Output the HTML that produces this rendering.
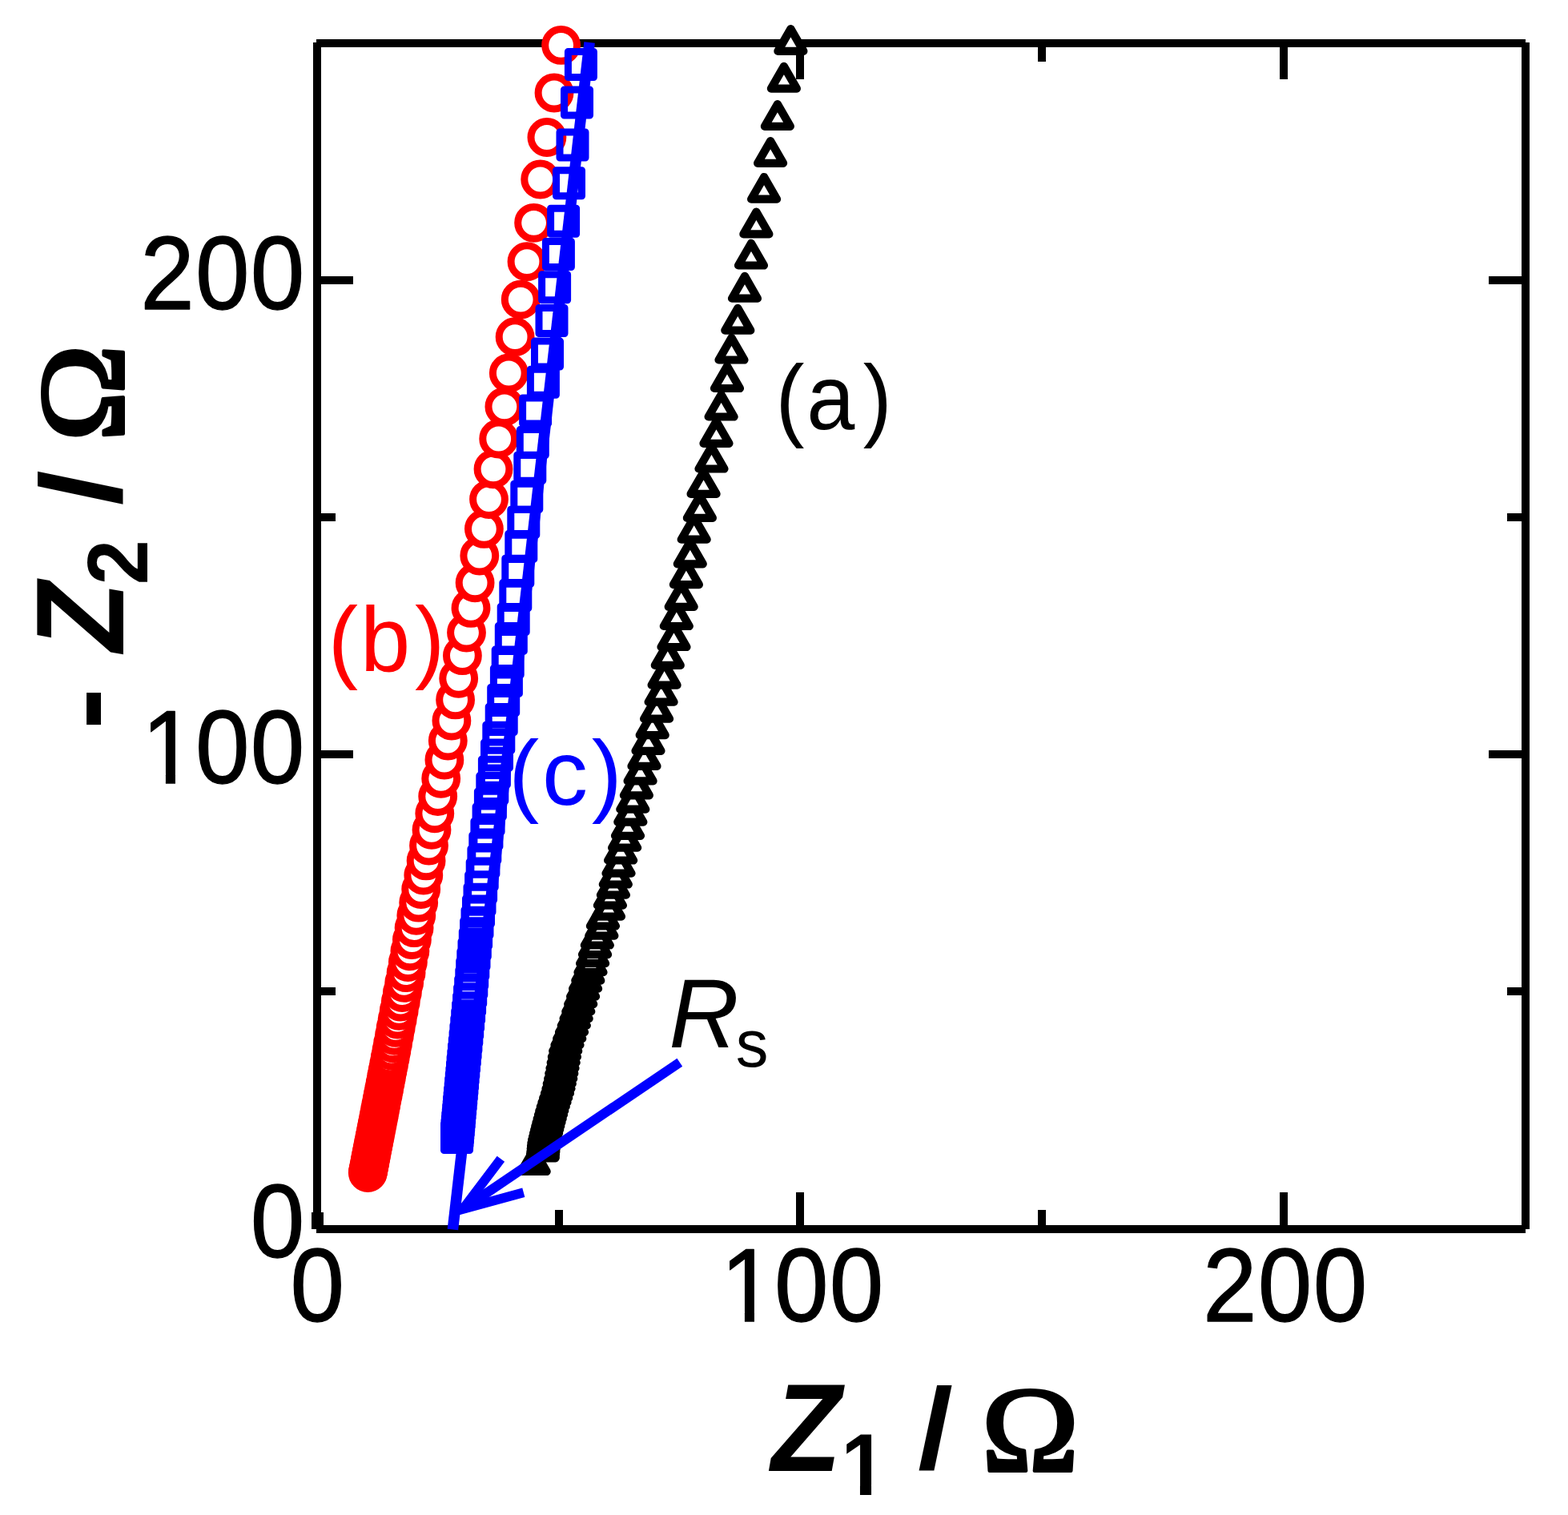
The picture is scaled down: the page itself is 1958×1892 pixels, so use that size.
<!DOCTYPE html>
<html lang="en"><head><meta charset="utf-8"><title>Nyquist plot</title>
<style>html,body{margin:0;padding:0;background:#fff}body{width:1958px;height:1892px}svg{display:block}</style>
</head><body>
<svg width="1958" height="1892" viewBox="0 0 1958 1892" role="img" aria-label="Nyquist plot">
<rect x="0" y="0" width="1958" height="1892" fill="#fff"/>
<defs><clipPath id="c0"><path clip-rule="evenodd" d="M-3000 -3000H3000V3000H-3000ZM905.66 -11.28H929.91V3.60H905.66ZM941.95 -11.28H965.25V3.60H941.95Z"/></clipPath><clipPath id="c1"><path clip-rule="evenodd" d="M-3000 -3000H3000V3000H-3000ZM182.66 -11.28H206.91V3.60H182.66ZM218.95 -11.28H242.25V3.60H218.95Z"/></clipPath><clipPath id="c2"><path clip-rule="evenodd" d="M-3000 -3000H3000V3000H-3000ZM93.62 17.39H113.95V33.10H93.62ZM128.05 17.39H147.09V33.10H128.05Z"/></clipPath></defs>
<g shape-rendering="crispEdges"><rect x="395" y="49" width="1510" height="10" fill="#000"/><rect x="395" y="1530" width="1510" height="10" fill="#000"/><rect x="391" y="53" width="10" height="1482" fill="#000"/><rect x="1900" y="53" width="10" height="1482" fill="#000"/><rect x="389" y="1514" width="15" height="21" fill="#000"/><rect x="693" y="1511" width="10" height="19" fill="#000"/><rect x="693" y="59" width="10" height="18" fill="#000"/><rect x="994" y="1489" width="10" height="41" fill="#000"/><rect x="994" y="59" width="10" height="40" fill="#000"/><rect x="1296" y="1511" width="10" height="19" fill="#000"/><rect x="1296" y="59" width="10" height="18" fill="#000"/><rect x="1598" y="1489" width="10" height="41" fill="#000"/><rect x="1598" y="59" width="10" height="40" fill="#000"/><rect x="401" y="1233" width="18" height="10" fill="#000"/><rect x="1882" y="1233" width="18" height="10" fill="#000"/><rect x="401" y="937" width="40" height="10" fill="#000"/><rect x="1859" y="937" width="41" height="10" fill="#000"/><rect x="401" y="641" width="18" height="10" fill="#000"/><rect x="1882" y="641" width="18" height="10" fill="#000"/><rect x="401" y="345" width="40" height="10" fill="#000"/><rect x="1859" y="345" width="41" height="10" fill="#000"/></g>
<g style="font-kerning:none">
<text transform="translate(0 1650.10) scale(1 1.0675)" x="362.57" y="0" style="font-family:'Liberation Sans',sans-serif;font-size:121.50px" fill="#000" stroke="#000" stroke-width="1.2" stroke-linejoin="round">0</text>
<text clip-path="url(#c0)" transform="translate(0 1650.10) scale(1 1.0675)" x="900.01 966.98 1035.77" y="0" style="font-family:'Liberation Sans',sans-serif;font-size:121.50px" fill="#000" stroke="#000" stroke-width="1.2" stroke-linejoin="round">100</text>
<text transform="translate(0 1650.10) scale(1 1.0675)" x="1502.09 1570.88 1639.67" y="0" style="font-family:'Liberation Sans',sans-serif;font-size:121.50px" fill="#000" stroke="#000" stroke-width="1.2" stroke-linejoin="round">200</text>
<text transform="translate(0 386.00) scale(1 1.0675)" x="175.19 243.98 312.77" y="0" style="font-family:'Liberation Sans',sans-serif;font-size:121.50px" fill="#000" stroke="#000" stroke-width="1.2" stroke-linejoin="round">200</text>
<text clip-path="url(#c1)" transform="translate(0 977.90) scale(1 1.0675)" x="177.01 243.98 312.77" y="0" style="font-family:'Liberation Sans',sans-serif;font-size:121.50px" fill="#000" stroke="#000" stroke-width="1.2" stroke-linejoin="round">100</text>
<text transform="translate(0 1570.10) scale(1 1.0675)" x="312.77" y="0" style="font-family:'Liberation Sans',sans-serif;font-size:121.50px" fill="#000" stroke="#000" stroke-width="1.2" stroke-linejoin="round">0</text>
</g>
<text clip-path="url(#c2)" transform="translate(960 1836.6)" fill="#000" style="font-kerning:none"><tspan x="3.35" y="0.00" textLength="87.19" lengthAdjust="spacingAndGlyphs" style="font-family:'Liberation Sans',sans-serif;font-weight:bold;font-style:italic;font-size:155.24px">Z</tspan><tspan x="90.20" y="30.10" textLength="56.73" lengthAdjust="spacingAndGlyphs" style="font-family:'Liberation Sans',sans-serif;font-weight:bold;font-size:108.90px">1</tspan> <tspan x="186.05" y="-2.87" textLength="44.10" lengthAdjust="spacingAndGlyphs" style="font-family:'Liberation Sans',sans-serif;font-weight:bold;font-size:143.43px">/</tspan> <tspan x="265.50" y="0.20" textLength="121.99" lengthAdjust="spacingAndGlyphs" style="font-family:'Liberation Serif',serif;font-size:152.84px" stroke="#000" stroke-width="4" stroke-linejoin="round">&#937;</tspan></text>
<text transform="translate(154.1 817.3) rotate(-90)" fill="#000" style="font-kerning:none"><tspan x="-93.85" y="2.07" textLength="52.46" lengthAdjust="spacingAndGlyphs" style="font-family:'Liberation Sans',sans-serif;font-weight:bold;font-size:151.08px">-</tspan> <tspan x="3.35" y="0.00" textLength="87.19" lengthAdjust="spacingAndGlyphs" style="font-family:'Liberation Sans',sans-serif;font-weight:bold;font-style:italic;font-size:155.24px">Z</tspan><tspan x="87.01" y="30.00" textLength="56.03" lengthAdjust="spacingAndGlyphs" style="font-family:'Liberation Sans',sans-serif;font-weight:bold;font-size:107.13px">2</tspan> <tspan x="186.05" y="-2.87" textLength="44.10" lengthAdjust="spacingAndGlyphs" style="font-family:'Liberation Sans',sans-serif;font-weight:bold;font-size:143.43px">/</tspan> <tspan x="265.50" y="0.20" textLength="121.99" lengthAdjust="spacingAndGlyphs" style="font-family:'Liberation Serif',serif;font-size:152.84px" stroke="#000" stroke-width="4" stroke-linejoin="round">&#937;</tspan></text>
<g fill="#fff" stroke="#000" stroke-width="10.2" stroke-linejoin="round"><path fill="#000" d="M666.7 1435.4L682.7 1463.0L650.7 1463.0Z"/><path fill="#000" d="M677.6 1418.7L693.6 1446.3L661.6 1446.3Z"/><path fill="#000" d="M677.7 1417.2L693.7 1444.9L661.7 1444.9Z"/><path fill="#000" d="M678.0 1413.9L694.0 1441.6L662.0 1441.6Z"/><path fill="#000" d="M678.4 1410.5L694.4 1438.2L662.4 1438.2Z"/><path fill="#000" d="M678.7 1406.9L694.7 1434.6L662.7 1434.6Z"/><path fill="#000" d="M679.0 1403.3L695.0 1431.0L663.0 1431.0Z"/><path fill="#000" d="M679.4 1399.5L695.4 1427.2L663.4 1427.2Z"/><path fill="#000" d="M680.1 1395.6L696.1 1423.3L664.1 1423.3Z"/><path fill="#000" d="M681.1 1391.5L697.1 1419.2L665.1 1419.2Z"/><path fill="#000" d="M682.1 1387.4L698.1 1415.1L666.1 1415.1Z"/><path fill="#000" d="M683.2 1383.1L699.2 1410.8L667.2 1410.8Z"/><path fill="#000" d="M684.3 1378.7L700.3 1406.4L668.3 1406.4Z"/><path fill="#000" d="M685.5 1374.1L701.5 1401.8L669.5 1401.8Z"/><path fill="#000" d="M686.7 1369.4L702.7 1397.1L670.7 1397.1Z"/><path fill="#000" d="M688.0 1364.5L704.0 1392.2L672.0 1392.2Z"/><path fill="#000" d="M689.3 1359.5L705.3 1387.2L673.3 1387.2Z"/><path fill="#000" d="M690.8 1354.3L706.8 1382.0L674.8 1382.0Z"/><path fill="#000" d="M692.5 1348.9L708.5 1376.6L676.5 1376.6Z"/><path fill="#000" d="M694.2 1343.4L710.2 1371.1L678.2 1371.1Z"/><path fill="#000" d="M696.0 1337.7L712.0 1365.4L680.0 1365.4Z"/><path fill="#000" d="M697.5 1331.8L713.5 1359.5L681.5 1359.5Z"/><path fill="#000" d="M698.8 1325.7L714.8 1353.4L682.8 1353.4Z"/><path fill="#000" d="M700.2 1319.4L716.2 1347.1L684.2 1347.1Z"/><path fill="#000" d="M701.3 1312.9L717.3 1340.6L685.3 1340.6Z"/><path fill="#000" d="M702.5 1306.3L718.5 1334.0L686.5 1334.0Z"/><path fill="#000" d="M703.7 1299.3L719.7 1327.0L687.7 1327.0Z"/><path fill="#000" d="M704.9 1292.2L720.9 1319.9L688.9 1319.9Z"/><path fill="#000" d="M706.2 1284.9L722.2 1312.6L690.2 1312.6Z"/><path fill="#000" d="M708.5 1277.3L724.5 1305.0L692.5 1305.0Z"/><path fill="#000" d="M711.2 1269.4L727.2 1297.1L695.2 1297.1Z"/><path fill="#000" d="M714.0 1261.3L730.0 1289.0L698.0 1289.0Z"/><path fill="#000" d="M716.8 1253.0L732.8 1280.7L700.8 1280.7Z"/><path fill="#000" d="M719.6 1244.4L735.6 1272.1L703.6 1272.1Z"/><path fill="#000" d="M722.3 1235.5L738.3 1263.2L706.3 1263.2Z"/><path fill="#000" d="M725.2 1226.3L741.2 1254.0L709.2 1254.0Z"/><path fill="#000" d="M728.1 1216.8L744.1 1244.5L712.1 1244.5Z"/><path fill="#000" d="M731.1 1207.0L747.1 1234.7L715.1 1234.7Z"/><path fill="#000" d="M734.3 1196.9L750.3 1224.6L718.3 1224.6Z"/><path d="M737.5 1186.5L753.5 1214.2L721.5 1214.2Z"/><path d="M740.1 1175.5L756.1 1203.2L724.1 1203.2Z"/><path d="M743.0 1164.4L759.0 1192.1L727.0 1192.1Z"/><path d="M745.8 1152.8L761.8 1180.5L729.8 1180.5Z"/><path d="M751.3 1140.9L767.3 1168.6L735.3 1168.6Z"/><path d="M752.9 1128.8L768.9 1156.5L736.9 1156.5Z"/><path d="M759.9 1116.9L775.9 1144.6L743.9 1144.6Z"/><path d="M761.9 1103.0L777.9 1130.7L745.9 1130.7Z"/><path d="M765.9 1090.0L781.9 1117.7L749.9 1117.7Z"/><path d="M768.8 1076.8L784.8 1104.5L752.8 1104.5Z"/><path d="M772.5 1063.0L788.5 1090.7L756.5 1090.7Z"/><path d="M775.1 1046.8L791.1 1074.5L759.1 1074.5Z"/><path d="M780.1 1031.0L796.1 1058.7L764.1 1058.7Z"/><path d="M784.0 1016.1L800.0 1043.8L768.0 1043.8Z"/><path d="M787.3 998.9L803.3 1026.6L771.3 1026.6Z"/><path d="M790.3 983.0L806.3 1010.7L774.3 1010.7Z"/><path d="M794.9 965.6L810.9 993.3L778.9 993.3Z"/><path d="M799.6 947.7L815.6 975.4L783.6 975.4Z"/><path d="M804.5 929.2L820.5 956.9L788.5 956.9Z"/><path d="M809.5 910.1L825.5 937.8L793.5 937.8Z"/><path d="M814.7 890.4L830.7 918.1L798.7 918.1Z"/><path d="M820.1 870.0L836.1 897.7L804.1 897.7Z"/><path d="M825.6 849.0L841.6 876.7L809.6 876.7Z"/><path d="M829.6 827.9L845.6 855.6L813.6 855.6Z"/><path d="M833.8 803.2L849.8 830.9L817.8 830.9Z"/><path d="M841.5 780.3L857.5 808.0L825.5 808.0Z"/><path d="M844.8 754.3L860.8 782.0L828.8 782.0Z"/><path d="M850.7 730.1L866.7 757.8L834.7 757.8Z"/><path d="M856.9 702.4L872.9 730.1L840.9 730.1Z"/><path d="M861.8 676.6L877.8 704.3L845.8 704.3Z"/><path d="M866.7 646.0L882.7 673.7L850.7 673.7Z"/><path d="M873.9 619.2L889.9 646.9L857.9 646.9Z"/><path d="M878.6 589.2L894.6 616.9L862.6 616.9Z"/><path d="M888.5 557.8L904.5 585.5L872.5 585.5Z"/><path d="M894.5 526.1L910.5 553.8L878.5 553.8Z"/><path d="M900.6 492.8L916.6 520.5L884.6 520.5Z"/><path d="M908.0 457.2L924.0 485.0L892.0 485.0Z"/><path d="M913.5 421.8L929.5 449.5L897.5 449.5Z"/><path d="M921.3 384.8L937.3 412.6L905.3 412.6Z"/><path d="M930.0 344.9L946.0 372.7L914.0 372.7Z"/><path d="M938.0 303.8L954.0 331.5L922.0 331.5Z"/><path d="M944.4 264.6L960.4 292.4L928.4 292.4Z"/><path d="M954.1 221.0L970.1 248.7L938.1 248.7Z"/><path d="M962.1 176.1L978.1 203.8L946.1 203.8Z"/><path d="M970.9 130.1L986.9 157.8L954.9 157.8Z"/><path d="M978.9 82.9L994.9 110.6L962.9 110.6Z"/><path d="M987.4 36.1L1003.4 63.9L971.4 63.9Z"/></g>
<g fill="#fff" stroke="#f00" stroke-width="9"><circle fill="#f00" cx="459.3" cy="1464.5" r="19.9"/><circle fill="#f00" cx="459.7" cy="1462.5" r="19.9"/><circle fill="#f00" cx="460.3" cy="1459.5" r="19.9"/><circle fill="#f00" cx="460.9" cy="1456.5" r="19.9"/><circle fill="#f00" cx="461.5" cy="1453.3" r="19.9"/><circle fill="#f00" cx="462.1" cy="1449.9" r="19.9"/><circle fill="#f00" cx="462.8" cy="1446.4" r="19.9"/><circle fill="#f00" cx="463.5" cy="1442.8" r="19.9"/><circle fill="#f00" cx="464.2" cy="1439.0" r="19.9"/><circle fill="#f00" cx="465.0" cy="1435.1" r="19.9"/><circle fill="#f00" cx="465.8" cy="1431.0" r="19.9"/><circle fill="#f00" cx="466.6" cy="1426.8" r="19.9"/><circle fill="#f00" cx="467.5" cy="1422.3" r="19.9"/><circle fill="#f00" cx="468.4" cy="1417.7" r="19.9"/><circle fill="#f00" cx="469.3" cy="1412.9" r="19.9"/><circle fill="#f00" cx="470.3" cy="1407.9" r="19.9"/><circle fill="#f00" cx="471.3" cy="1402.7" r="19.9"/><circle fill="#f00" cx="472.4" cy="1397.3" r="19.9"/><circle fill="#f00" cx="473.5" cy="1391.7" r="19.9"/><circle fill="#f00" cx="474.6" cy="1385.8" r="19.9"/><circle fill="#f00" cx="475.8" cy="1379.7" r="19.9"/><circle fill="#f00" cx="477.0" cy="1373.3" r="19.9"/><circle fill="#f00" cx="478.3" cy="1366.7" r="19.9"/><circle fill="#f00" cx="479.7" cy="1359.8" r="19.9"/><circle fill="#f00" cx="481.1" cy="1352.6" r="19.9"/><circle fill="#f00" cx="482.5" cy="1345.1" r="19.9"/><circle fill="#f00" cx="484.0" cy="1337.3" r="19.9"/><circle fill="#f00" cx="485.6" cy="1329.2" r="19.9"/><circle cx="487.2" cy="1320.8" r="19.9"/><circle cx="488.9" cy="1312.0" r="19.9"/><circle cx="490.6" cy="1302.8" r="19.9"/><circle cx="492.4" cy="1293.3" r="19.9"/><circle cx="494.2" cy="1283.4" r="19.9"/><circle cx="496.2" cy="1273.1" r="19.9"/><circle cx="498.2" cy="1262.3" r="19.9"/><circle cx="500.3" cy="1251.1" r="19.9"/><circle cx="502.4" cy="1239.5" r="19.9"/><circle cx="504.7" cy="1227.3" r="19.9"/><circle cx="507.1" cy="1214.7" r="19.9"/><circle cx="509.4" cy="1201.5" r="19.9"/><circle cx="511.9" cy="1187.8" r="19.9"/><circle cx="514.4" cy="1173.6" r="19.9"/><circle cx="517.1" cy="1158.7" r="19.9"/><circle cx="519.8" cy="1143.3" r="19.9"/><circle cx="522.7" cy="1127.2" r="19.9"/><circle cx="525.7" cy="1110.5" r="19.9"/><circle cx="528.8" cy="1093.0" r="19.9"/><circle cx="532.1" cy="1074.9" r="19.9"/><circle cx="535.5" cy="1056.0" r="19.9"/><circle cx="539.0" cy="1036.3" r="19.9"/><circle cx="542.8" cy="1015.8" r="19.9"/><circle cx="546.7" cy="994.5" r="19.9"/><circle cx="550.7" cy="972.3" r="19.9"/><circle cx="554.9" cy="949.1" r="19.9"/><circle cx="559.3" cy="925.1" r="19.9"/><circle cx="563.9" cy="900.0" r="19.9"/><circle cx="568.6" cy="873.9" r="19.9"/><circle cx="572.7" cy="847.3" r="19.9"/><circle cx="577.4" cy="818.7" r="19.9"/><circle cx="582.5" cy="790.1" r="19.9"/><circle cx="588.0" cy="759.4" r="19.9"/><circle cx="593.1" cy="727.8" r="19.9"/><circle cx="598.8" cy="694.1" r="19.9"/><circle cx="604.4" cy="660.4" r="19.9"/><circle cx="610.5" cy="623.6" r="19.9"/><circle cx="616.0" cy="585.8" r="19.9"/><circle cx="622.7" cy="548.0" r="19.9"/><circle cx="629.9" cy="507.8" r="19.9"/><circle cx="635.3" cy="466.0" r="19.9"/><circle cx="643.1" cy="420.7" r="19.9"/><circle cx="650.2" cy="374.1" r="19.9"/><circle cx="658.0" cy="326.7" r="19.9"/><circle cx="666.6" cy="278.3" r="19.9"/><circle cx="674.7" cy="224.0" r="19.9"/><circle cx="682.9" cy="171.5" r="19.9"/><circle cx="692.0" cy="116.0" r="19.9"/><circle cx="700.6" cy="56.4" r="19.9"/></g>
<line x1="736.1" y1="53" x2="565.4" y2="1535.5" stroke="#00f" stroke-width="13.6"/>
<g fill="none" stroke="#00f" stroke-width="9" stroke-linejoin="round"><rect fill="#00f" x="554.5" y="1404.5" width="32" height="32"/><rect fill="#00f" x="554.6" y="1403.3" width="32" height="32"/><rect fill="#00f" x="555.0" y="1399.0" width="32" height="32"/><rect fill="#00f" x="555.4" y="1394.6" width="32" height="32"/><rect fill="#00f" x="555.8" y="1390.0" width="32" height="32"/><rect fill="#00f" x="556.3" y="1385.3" width="32" height="32"/><rect fill="#00f" x="556.7" y="1380.3" width="32" height="32"/><rect fill="#00f" x="557.2" y="1375.2" width="32" height="32"/><rect fill="#00f" x="557.6" y="1369.9" width="32" height="32"/><rect fill="#00f" x="558.1" y="1364.4" width="32" height="32"/><rect fill="#00f" x="558.6" y="1358.7" width="32" height="32"/><rect fill="#00f" x="559.2" y="1352.8" width="32" height="32"/><rect fill="#00f" x="559.7" y="1346.7" width="32" height="32"/><rect fill="#00f" x="560.3" y="1340.3" width="32" height="32"/><rect fill="#00f" x="560.9" y="1333.7" width="32" height="32"/><rect fill="#00f" x="561.5" y="1326.9" width="32" height="32"/><rect fill="#00f" x="562.1" y="1319.8" width="32" height="32"/><rect fill="#00f" x="562.8" y="1312.4" width="32" height="32"/><rect fill="#00f" x="563.5" y="1304.8" width="32" height="32"/><rect fill="#00f" x="564.3" y="1296.9" width="32" height="32"/><rect fill="#00f" x="565.1" y="1288.7" width="32" height="32"/><rect fill="#00f" x="565.9" y="1280.2" width="32" height="32"/><rect fill="#00f" x="566.8" y="1271.3" width="32" height="32"/><rect fill="#00f" x="567.7" y="1262.2" width="32" height="32"/><rect fill="#00f" x="568.6" y="1252.7" width="32" height="32"/><rect x="569.6" y="1242.9" width="32" height="32"/><rect x="570.6" y="1232.7" width="32" height="32"/><rect x="571.7" y="1222.1" width="32" height="32"/><rect x="572.8" y="1211.1" width="32" height="32"/><rect x="573.7" y="1199.7" width="32" height="32"/><rect x="574.8" y="1187.9" width="32" height="32"/><rect x="576.0" y="1175.7" width="32" height="32"/><rect x="577.3" y="1163.0" width="32" height="32"/><rect x="578.6" y="1149.8" width="32" height="32"/><rect x="580.0" y="1136.2" width="32" height="32"/><rect x="581.5" y="1122.0" width="32" height="32"/><rect x="583.0" y="1107.3" width="32" height="32"/><rect x="584.6" y="1092.1" width="32" height="32"/><rect x="586.2" y="1076.3" width="32" height="32"/><rect x="587.9" y="1060.0" width="32" height="32"/><rect x="589.8" y="1043.0" width="32" height="32"/><rect x="591.9" y="1025.4" width="32" height="32"/><rect x="594.1" y="1007.1" width="32" height="32"/><rect x="596.4" y="988.2" width="32" height="32"/><rect x="598.8" y="968.6" width="32" height="32"/><rect x="601.4" y="948.2" width="32" height="32"/><rect x="604.5" y="927.1" width="32" height="32"/><rect x="606.8" y="905.2" width="32" height="32"/><rect x="610.2" y="882.5" width="32" height="32"/><rect x="612.7" y="858.5" width="32" height="32"/><rect x="616.4" y="834.4" width="32" height="32"/><rect x="618.2" y="811.1" width="32" height="32"/><rect x="622.3" y="781.4" width="32" height="32"/><rect x="625.2" y="757.5" width="32" height="32"/><rect x="627.8" y="727.6" width="32" height="32"/><rect x="630.8" y="697.3" width="32" height="32"/><rect x="634.8" y="666.4" width="32" height="32"/><rect x="637.8" y="636.3" width="32" height="32"/><rect x="641.8" y="604.2" width="32" height="32"/><rect x="645.8" y="568.3" width="32" height="32"/><rect x="649.3" y="536.6" width="32" height="32"/><rect x="652.6" y="496.9" width="32" height="32"/><rect x="662.4" y="461.3" width="32" height="32"/><rect x="667.5" y="426.1" width="32" height="32"/><rect x="673.0" y="384.5" width="32" height="32"/><rect x="676.6" y="342.8" width="32" height="32"/><rect x="681.4" y="301.5" width="32" height="32"/><rect x="687.6" y="260.3" width="32" height="32"/><rect x="694.5" y="212.7" width="32" height="32"/><rect x="699.0" y="165.0" width="32" height="32"/><rect x="704.5" y="112.0" width="32" height="32"/><rect x="709.4" y="64.5" width="32" height="32"/></g>
<g stroke="#00f" fill="none" stroke-linejoin="miter"><line x1="578.0" y1="1510.0" x2="848.8" y2="1326.7" stroke-width="12"/><path d="M625.4 1447.3L578.0 1510.0L653.8 1489.3" stroke-width="11.8" stroke-miterlimit="10"/></g>
<text transform="translate(0 536.22) scale(1 1.0634)" x="968.59 1007.17 1077.70" y="0" style="font-family:'Liberation Sans',sans-serif;font-size:108.00px;font-kerning:none" fill="#000">(a)</text>
<text transform="translate(0 838.11) scale(1 1.0216)" x="409.71 450.10 518.05" y="0" style="font-family:'Liberation Sans',sans-serif;font-size:112.00px;font-kerning:none" fill="#f00">(b)</text>
<text transform="translate(0 1005.22) scale(1 1.0075)" x="635.37 676.98 738.82" y="0" style="font-family:'Liberation Sans',sans-serif;font-size:114.00px;font-kerning:none" fill="#00f">(c)</text>
<text fill="#000" style="font-kerning:none"><tspan x="835.37" y="1307.90" textLength="87.45" lengthAdjust="spacingAndGlyphs" style="font-family:'Liberation Sans',sans-serif;font-style:italic;font-size:121.80px">R</tspan><tspan x="918.73" y="1331.58" textLength="40.71" lengthAdjust="spacingAndGlyphs" style="font-family:'Liberation Sans',sans-serif;font-size:83.46px">s</tspan></text>
</svg>
</body></html>
